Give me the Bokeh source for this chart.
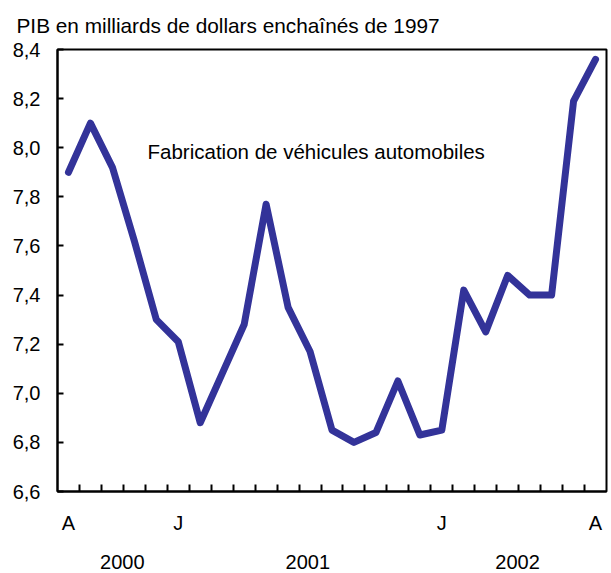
from bokeh.plotting import figure
from bokeh.models import (FixedTicker, CustomJSTickFormatter, Label,
                          LinearAxis, Range1d, Title)
from bokeh.embed import file_html
from bokeh.resources import INLINE

# Monthly GDP, motor vehicle manufacturing (billions of chained 1997 dollars)
values = [7.90, 8.10, 7.92, 7.62, 7.30, 7.21, 6.88, 7.08, 7.28, 7.77,
          7.35, 7.17, 6.85, 6.80, 6.84, 7.05, 6.83, 6.85, 7.42, 7.25,
          7.48, 7.40, 7.40, 8.19, 8.36]
months = list(range(len(values)))

month_tick_pos = [0, 5, 17, 24]
month_tick_labels = ["A", "J", "J", "A"]
year_labels = ["2000", "2001", "2002"]
year_pos = [2.45, 10.9, 20.45]
y_ticks = [6.6, 6.8, 7.0, 7.2, 7.4, 7.6, 7.8, 8.0, 8.2, 8.4]

FONT = "Liberation Sans"
BLUE = "#333399"

p = figure(width=611, height=573, output_backend="svg", toolbar_location=None,
           x_range=Range1d(-0.5, len(values) - 0.5), y_range=Range1d(6.6, 8.4),
           min_border_left=57, min_border_right=5, min_border_top=49,
           min_border_bottom=82)

p.title = Title(text="PIB en milliards de dollars enchaînés de 1997",
                text_font=FONT, text_font_size="20.8px", text_font_style="normal",
                text_color="black", align="left", offset=-41, standoff=22,
                vertical_align="top")

p.grid.visible = False
p.outline_line_color = "black"
p.outline_line_width = 2
p.background_fill_color = "white"
p.border_fill_color = "white"

# x axis (months)
xa = p.xaxis[0]
xa.ticker = FixedTicker(ticks=month_tick_pos,
                        minor_ticks=[m + 0.5 for m in months[:-1]])
xa.major_label_overrides = {k: v for k, v in zip(month_tick_pos, month_tick_labels)}
xa.major_tick_in = 0
xa.major_tick_out = 0
xa.minor_tick_in = 7
xa.minor_tick_out = 0
xa.minor_tick_line_color = "black"
xa.minor_tick_line_width = 2
xa.axis_line_width = 2
xa.axis_line_color = "black"
xa.major_label_text_font = FONT
xa.major_label_text_font_size = "20px"
xa.major_label_text_color = "black"
xa.major_label_standoff = 20

# x axis (years)
xa2 = LinearAxis(ticker=FixedTicker(ticks=year_pos, minor_ticks=[]),
                 major_label_overrides={k: v for k, v in zip(year_pos, year_labels)},
                 axis_line_color=None, major_tick_line_color=None,
                 minor_tick_line_color=None, major_label_standoff=12,
                 major_label_text_font=FONT, major_label_text_font_size="20px",
                 major_label_text_color="black")
p.add_layout(xa2, "below")

# y axis
ya = p.yaxis[0]
ya.ticker = FixedTicker(ticks=y_ticks, minor_ticks=[])
ya.formatter = CustomJSTickFormatter(code="return tick.toFixed(1).replace('.', ',');")
ya.major_tick_in = 6
ya.major_tick_out = 0
ya.major_tick_line_width = 2
ya.axis_line_width = 2
ya.axis_line_color = "black"
ya.major_label_text_font = FONT
ya.major_label_text_font_size = "20px"
ya.major_label_text_color = "black"
ya.major_label_standoff = 17

p.line(months, values, line_color=BLUE, line_width=7,
       line_join="round", line_cap="round")

p.add_layout(Label(x=3.6, y=7.984, text="Fabrication de véhicules automobiles",
                   text_font=FONT, text_font_size="20.5px", text_color="black",
                   text_baseline="alphabetic", text_align="left"))

open("out.html", "w").write(file_html(p, INLINE))
